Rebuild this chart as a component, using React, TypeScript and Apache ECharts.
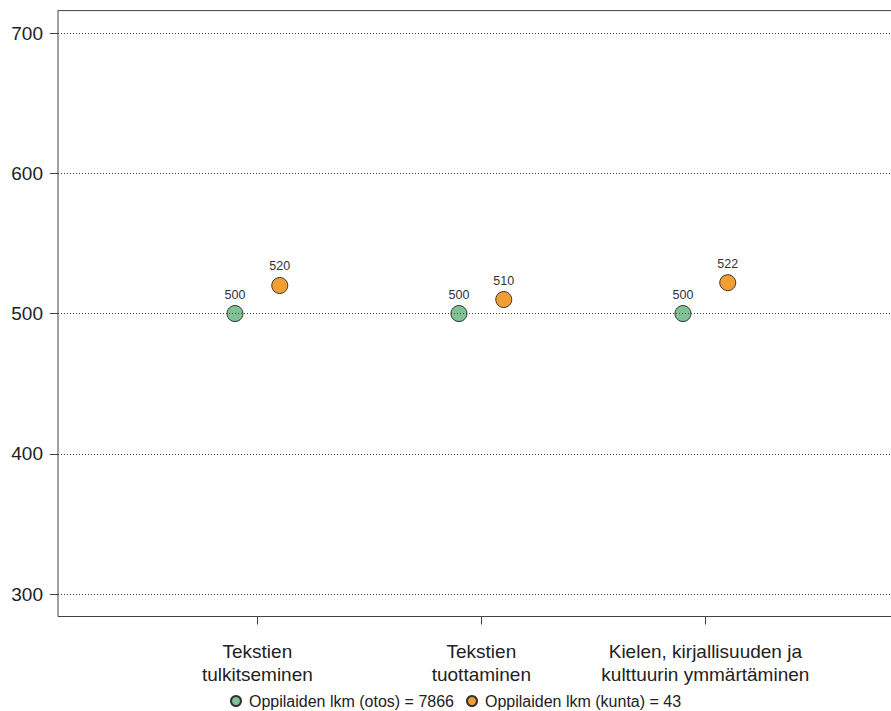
import React, { useEffect, useRef } from "react";
import * as echarts from "echarts";

const categories = [
  "Tekstien\ntulkitseminen",
  "Tekstien\ntuottaminen",
  "Kielen, kirjallisuuden ja\nkulttuurin ymmärtäminen",
];
const seriesNames = [
  "Oppilaiden lkm (otos) = 7866",
  "Oppilaiden lkm (kunta) = 43",
];
const otosValues = [500, 500, 500];
const kuntaValues = [520, 510, 522];
const yTicks = [300, 400, 500, 600, 700];

const FONT = "'Liberation Sans', Arial, sans-serif";
const GREEN = "#7fc393";
const ORANGE = "#f19f34";
const OFFSET = 0.1;

export default function App() {
  const ref = useRef<HTMLDivElement>(null);
  useEffect(() => {
    if (!ref.current) return;
    const chart = echarts.init(ref.current, null, { renderer: "svg" });
    const catPos = categories.map((_, i) => i + 1);
    const mk = (vals: number[], off: number) =>
      vals.map((v, i) => [catPos[i] + off, v]);
    const labelCfg = {
      show: true,
      position: "top",
      distance: 4,
      fontSize: 12.5,
      color: "#333",
      fontFamily: FONT,
    };
    chart.setOption({
      animation: false,
      backgroundColor: "#fff",
      grid: {
        left: 58,
        top: 10.6,
        right: -13.7,
        bottom: 94.5,
        show: true,
        containLabel: false,
        outerBoundsMode: "none",
        borderColor: "#444",
        borderWidth: 1,
        backgroundColor: "transparent",
      },
      xAxis: {
        type: "value",
        min: 0.11,
        max: 3.89,
        splitLine: { show: false },
        axisLine: { show: false },
        axisTick: {
          show: true,
          customValues: catPos,
          length: 8,
          lineStyle: { color: "#444" },
        },
        axisLabel: {
          customValues: catPos,
          formatter: (v: number) => categories[Math.round(v) - 1] ?? "",
          fontSize: 19,
          lineHeight: 23,
          margin: 23,
          color: "#222",
          fontFamily: FONT,
        },
      },
      yAxis: {
        type: "value",
        min: 284,
        max: 716,
        splitLine: { show: false },
        axisLine: { show: false },
        axisTick: {
          show: true,
          customValues: yTicks,
          length: 8,
          lineStyle: { color: "#444" },
        },
        axisLabel: {
          customValues: yTicks,
          fontSize: 19,
          margin: 15,
          color: "#222",
          fontFamily: FONT,
        },
      },
      legend: {
        left: 230,
        top: 693,
        padding: 0,
        icon: "circle",
        itemWidth: 10,
        itemHeight: 10,
        itemGap: 12,
        textStyle: {
          fontSize: 16,
          color: "#222",
          fontFamily: FONT,
          padding: [0, 0, 0, 3],
        },
        data: seriesNames,
      },
      series: [
        {
          type: "line",
          name: "_grid",
          data: [],
          silent: true,
          z: 1,
          markLine: {
            silent: true,
            symbol: ["none", "none"],
            label: { show: false },
            lineStyle: { color: "#444", type: [1, 2], width: 1 },
            data: yTicks.map((v) => ({ yAxis: v })),
          },
        },
        {
          type: "scatter",
          name: seriesNames[0],
          data: mk(otosValues, -OFFSET),
          symbolSize: 16,
          z: 3,
          itemStyle: { color: GREEN, borderColor: "#333", borderWidth: 1, opacity: 1 },
          label: { ...labelCfg, formatter: (p: any) => String(p.value[1]) },
        },
        {
          type: "scatter",
          name: seriesNames[1],
          data: mk(kuntaValues, OFFSET),
          symbolSize: 16,
          z: 3,
          itemStyle: { color: ORANGE, borderColor: "#333", borderWidth: 1, opacity: 1 },
          label: { ...labelCfg, formatter: (p: any) => String(p.value[1]) },
        },
      ],
    });
    return () => chart.dispose();
  }, []);
  return (
    <div
      ref={ref}
      style={{ position: "fixed", left: 0, top: 0, width: 891, height: 711 }}
    />
  );
}
